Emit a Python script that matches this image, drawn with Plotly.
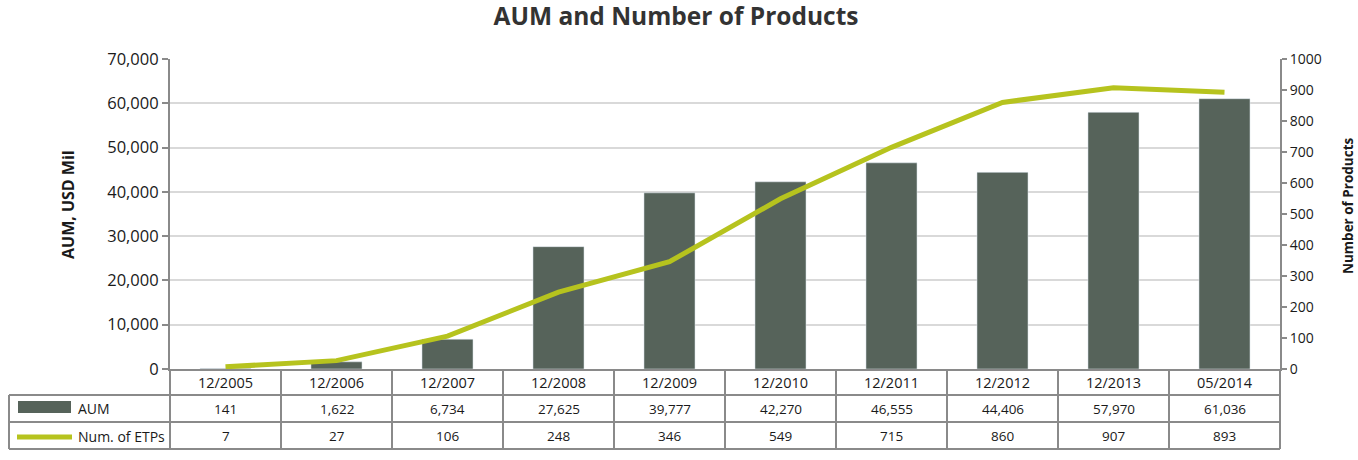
import plotly.graph_objects as go

# data
periods = ["12/2005", "12/2006", "12/2007", "12/2008", "12/2009",
           "12/2010", "12/2011", "12/2012", "12/2013", "05/2014"]
aum = [141, 1622, 6734, 27625, 39777, 42270, 46555, 44406, 57970, 61036]
etps = [7, 27, 106, 248, 346, 549, 715, 860, 907, 893]

BAR_COLOR = "#56635a"
LINE_COLOR = "#b6c31e"
GRID = "#d9d9d9"
BORDER = "#8a8a8a"
FONT = "Open Sans"
TXT = "#1a1a1a"

FIG_W, FIG_H = 1358, 460
# plot area (reference pixels 170..1280 x 59..369)
L, T = 170, 59
W, H = 1110, 310
R = FIG_W - L - W
B = FIG_H - T - H

def py(px):
    # reference pixel y -> paper y
    return -(px - 369) / H

def pxx(px):
    return (px - 170) / W

fig = go.Figure()
x_idx = list(range(len(periods)))
fig.add_trace(go.Bar(x=x_idx, y=aum, marker_color=BAR_COLOR, width=0.46,
                     name="AUM", yaxis="y"))
fig.add_trace(go.Scatter(x=x_idx, y=etps, mode="lines", name="Num. of ETPs",
                         line=dict(color=LINE_COLOR, width=5), yaxis="y2"))

shapes = []
for r in [395, 422, 449]:
    shapes.append(dict(type="line", xref="paper", yref="paper",
                       x0=pxx(9), x1=1, y0=py(r), y1=py(r),
                       line=dict(color=BORDER, width=2)))
# left border of the legend column
shapes.append(dict(type="line", xref="paper", yref="paper",
                   x0=pxx(9), x1=pxx(9), y0=py(395), y1=py(449),
                   line=dict(color=BORDER, width=2)))
# axis lines carried down through the table
for xp in (0, 1):
    shapes.append(dict(type="line", xref="paper", yref="paper",
                       x0=xp, x1=xp, y0=0, y1=py(449),
                       line=dict(color=BORDER, width=2)))
# column separators
for i in range(len(periods) - 1):
    shapes.append(dict(type="line", xref="x", yref="paper",
                       x0=i + 0.5, x1=i + 0.5, y0=0, y1=py(449),
                       line=dict(color=BORDER, width=2)))
# legend keys
shapes.append(dict(type="rect", xref="paper", yref="paper",
                   x0=pxx(18), x1=pxx(71), y0=py(401), y1=py(413),
                   fillcolor=BAR_COLOR, line=dict(width=0)))
shapes.append(dict(type="line", xref="paper", yref="paper",
                   x0=pxx(17), x1=pxx(72), y0=py(437), y1=py(437),
                   line=dict(color=LINE_COLOR, width=5)))

annotations = []
for i in x_idx:
    annotations.append(dict(x=i, y=py(408.5), xref="x", yref="paper",
                            text=f"{aum[i]:,}", showarrow=False,
                            xanchor="center", yanchor="middle",
                            font=dict(size=13.5, color=TXT)))
    annotations.append(dict(x=i, y=py(436), xref="x", yref="paper",
                            text=f"{etps[i]:,}", showarrow=False,
                            xanchor="center", yanchor="middle",
                            font=dict(size=13.5, color=TXT)))
for label, yy in (("AUM", 408.5), ("Num. of ETPs", 436)):
    annotations.append(dict(x=pxx(76), y=py(yy), xref="paper", yref="paper",
                            text=label, showarrow=False, xanchor="left",
                            yanchor="middle", font=dict(size=14, color=TXT)))

# axis titles as rotated annotations so they don't push the margins
annotations.append(dict(x=pxx(68), y=py(205), xref="paper", yref="paper",
                        text="<b>AUM, USD Mil</b>", textangle=-90,
                        showarrow=False, xanchor="center", yanchor="middle",
                        font=dict(size=16, color=TXT)))
annotations.append(dict(x=pxx(1348), y=py(206), xref="paper", yref="paper",
                        text="<b>Number of Products</b>", textangle=-90,
                        showarrow=False, xanchor="center", yanchor="middle",
                        font=dict(size=13.5, color=TXT)))

fig.update_layout(
    width=FIG_W, height=FIG_H,
    margin=dict(l=L, r=R, t=T, b=B, autoexpand=False),
    paper_bgcolor="white", plot_bgcolor="white",
    font=dict(family=FONT, color=TXT),
    title=dict(text="<b>AUM and Number of Products</b>",
               x=676 / FIG_W, y=1 - 16 / FIG_H,
               xanchor="center", yanchor="middle",
               font=dict(size=24.5, color="#333333")),
    showlegend=False,
    xaxis=dict(range=[-0.5, len(periods) - 0.5], tickmode="array",
               tickvals=x_idx, ticktext=periods, showgrid=False,
               showline=True, linecolor=BORDER, linewidth=2, ticks="",
               tickfont=dict(size=14.5), zeroline=False, automargin=False),
    yaxis=dict(range=[0, 70000], dtick=10000, tickformat=",",
               showgrid=True, gridcolor=GRID, gridwidth=2, zeroline=False,
               showline=True, linecolor=BORDER, linewidth=2,
               ticks="outside", ticklen=6, tickcolor=BORDER, tickwidth=2,
               tickfont=dict(size=16.5), automargin=False),
    yaxis2=dict(range=[0, 1000], dtick=100, overlaying="y", side="right",
                showgrid=False, zeroline=False, showline=True,
                linecolor=BORDER, linewidth=2, ticks="outside", ticklen=5,
                tickcolor=BORDER, tickwidth=2, tickfont=dict(size=14),
                automargin=False),
    shapes=shapes,
    annotations=annotations,
)

# drop the browser's default 8px body margin so the figure sits at 0,0
fig.write_html("out.html", config={"displayModeBar": False},
               post_script="document.body.style.margin = '0';")
